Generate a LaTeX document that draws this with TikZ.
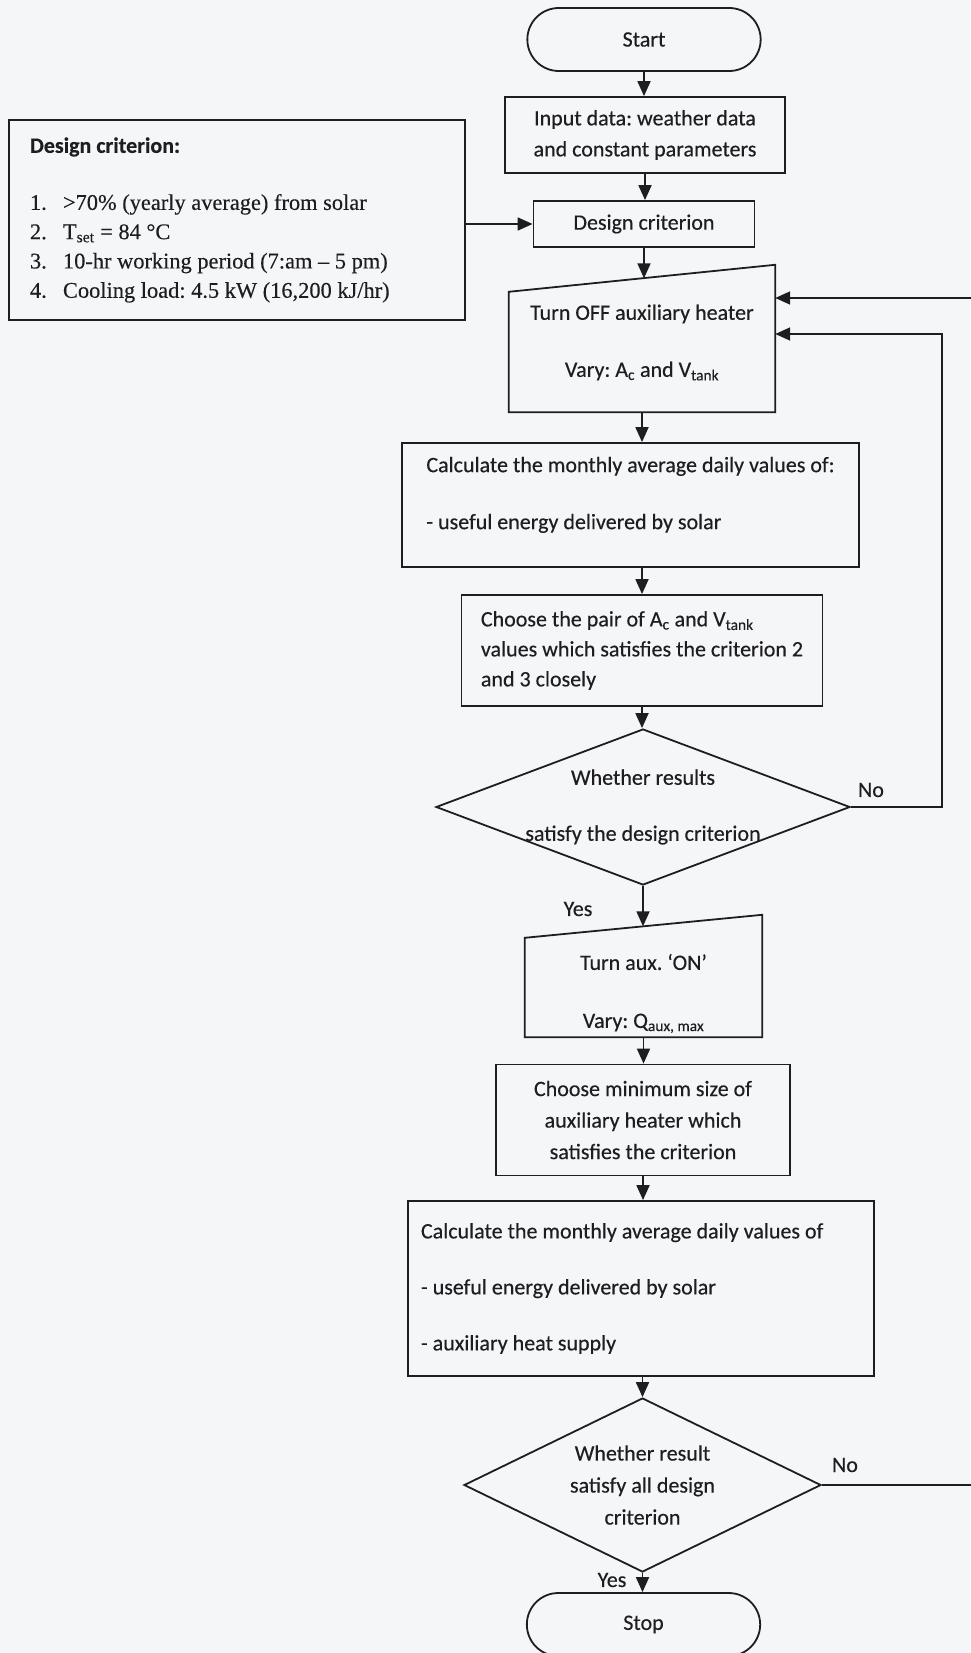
\documentclass[tikz,border=0pt]{standalone}
\usepackage{fontspec}
\setmainfont{Carlito}[FakeBold=0.35]
\newfontfamily\listfont{Liberation Serif}[FakeBold=0.3]
\usetikzlibrary{shapes.geometric,shapes.misc,arrows.meta,calc}
\definecolor{paper}{RGB}{245,246,248}
\definecolor{ink}{RGB}{30,30,30}
\frenchspacing

\begin{document}
\begin{tikzpicture}[
  x=1pt, y=-1pt,
  every node/.style={font=\fontsize{22}{31}\selectfont, text=ink},
  edgeline/.style={draw=ink, line width=1.8pt},
  box/.style={edgeline, align=center, inner sep=0pt},
  leftbox/.style={box, align=flush left},
  terminal/.style={edgeline, rounded rectangle, minimum width=240pt, minimum height=63pt},
  manual/.style={align=center, inner sep=0pt},
  decision/.style={edgeline, diamond, inner sep=0pt},
  listbox/.style={
    box,
    align=flush left,
    text width=414pt,
    inner xsep=21pt,
    minimum height=200pt,
    font=\listfont\fontsize{22.4}{29.3}\selectfont
  },
  lbl/.style={inner sep=0pt},
  arrow/.style={edgeline, -{Triangle[length=15pt,width=13pt]}}
]
\useasboundingbox (0,0) rectangle (970,1653);
\fill[paper] (0,0) rectangle (970,1653);

% main column
\node[terminal] (start) at (644,39.5) {Start};
\node[box, minimum width=280pt, minimum height=76pt] (input) at (645,135) {Input data: weather data\\and constant parameters};
\node[box, minimum width=221pt, minimum height=46pt] (design) at (644,224) {Design criterion};
\node[manual, minimum width=266pt, minimum height=139pt] (off) at (642,342.5) {Turn OFF auxiliary heater\\[26pt]Vary: A\textsubscript{c} and V\textsubscript{tank}};
\node[leftbox, minimum width=457pt, minimum height=124pt, text depth=24pt] (calcsolar) at (630.5,505) {Calculate the monthly average daily values of:\\[26pt]- useful energy delivered by solar};
\node[leftbox, minimum width=361pt, minimum height=111pt, font=\fontsize{22}{30}\selectfont] (pair) at (642,650.5) {Choose the pair of A\textsubscript{c} and V\textsubscript{tank}\\values which satisfies the criterion 2\\and 3 closely};
\node[decision, minimum width=414pt, minimum height=156pt,
  label={[align=center]center:Whether results\\[25pt]satisfy the design criterion}] (check) at (643,807) {};
\node[manual, minimum width=237pt, minimum height=87pt] (auxon) at (643.5,993.5) {Turn aux. `ON'\\[27pt]Vary: Q\textsubscript{aux, max}};
\node[box, minimum width=294pt, minimum height=111pt, font=\fontsize{22}{31.5}\selectfont] (size) at (643,1120) {Choose minimum size of\\auxiliary heater which\\satisfies the criterion};
\node[leftbox, text width=440pt, inner xsep=13pt, minimum height=175pt] (calcaux) at (641,1288.5) {Calculate the monthly average daily values of\\[25pt]- useful energy delivered by solar\\[25pt]- auxiliary heat supply};
\node[decision, minimum width=357pt, minimum height=174pt,
  label={[align=center, font=\fontsize{22}{32}\selectfont]center:Whether result\\satisfy all design\\criterion}] (final) at (642.5,1485) {};
\node[terminal] (stop) at (643.5,1624.5) {Stop};

% criteria list
\node[listbox] (crit) at (237,220) {{\normalfont\bfseries\fontsize{22}{29.3}\selectfont Design criterion:}\\[27.7pt]
\makebox[33pt][l]{1.}>70\% (yearly average) from solar\\
\makebox[33pt][l]{2.}T\textsubscript{set} = 84 °C\\
\makebox[33pt][l]{3.}10-hr working period (7:am – 5 pm)\\
\makebox[33pt][l]{4.}Cooling load: 4.5 kW (16,200 kJ/hr)};

% branch labels
\node[lbl] (no1) at (871,790) {No};
\node[lbl] (yes1) at (578,909) {Yes};
\node[lbl] (no2) at (845,1465) {No};
\node[lbl] (yes2) at (612,1580) {Yes};

% manual input outlines
\draw[edgeline] (off.south west) -- (off.south east) -- ([yshift=8pt]off.north east) -- ([yshift=-19pt]off.north west) -- cycle;
\draw[edgeline] (auxon.south west) -- (auxon.south east) -- ([yshift=35pt]auxon.north east) -- ([yshift=12pt]auxon.north west) -- cycle;
\coordinate (offtop) at ($([yshift=-19pt]off.north west)!0.5!([yshift=8pt]off.north east)$);
\coordinate (auxtop) at ($([yshift=12pt]auxon.north west)!0.5!([yshift=35pt]auxon.north east)$);
\coordinate (loopin) at (942,334);
\coordinate (loopout) at (990,298);

\draw[arrow] (start.south) -- (start.south |- input.north);
\draw[arrow] (input.south) -- (input.south |- design.north);
\draw[arrow] (crit.east |- design.west) -- (design.west);
\draw[arrow] (design.south) -- (design.south |- offtop);
\draw[arrow] (off.south) -- (off.south |- calcsolar.north);
\draw[arrow] (pair.north |- calcsolar.south) -- (pair.north);
\draw[arrow] (pair.south) -- (pair.south |- check.north);
\draw[arrow] (check.south) -- (check.south |- auxtop);
\draw[arrow] (auxon.south) -- (auxon.south |- size.north);
\draw[arrow] (size.south) -- (size.south |- calcaux.north);
\draw[arrow] (final.north |- calcaux.south) -- (final.north);
\draw[arrow] (final.south) -- (final.south |- stop.north);
\draw[arrow] (check.east) -| (loopin) -- (off.east |- loopin);
\draw[arrow] (final.east) -| (loopout) -- (off.east |- loopout);
\end{tikzpicture}
\end{document}
